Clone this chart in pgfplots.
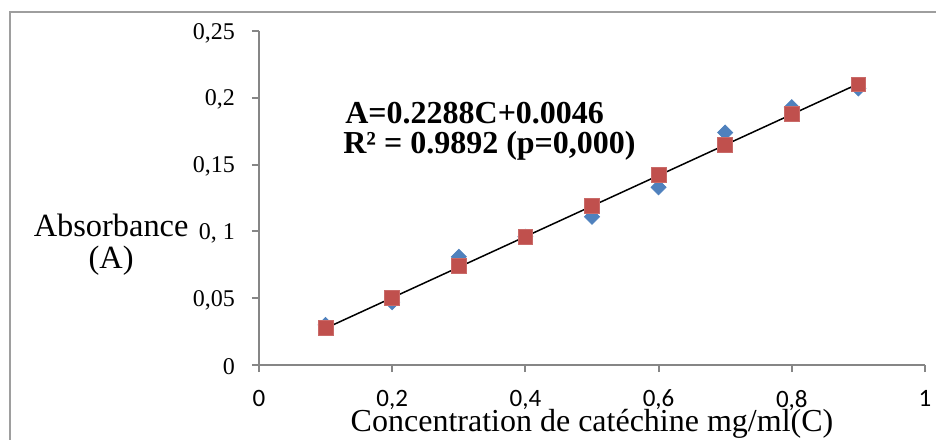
\documentclass[border=0pt]{standalone}
\usepackage{fontspec}
\setmainfont{Liberation Serif}
\newfontfamily\calibri{Carlito}
\usepackage{pgfplots}
\pgfplotsset{compat=1.18}

\definecolor{xlblue}{HTML}{4F81BD}
\definecolor{xlred}{HTML}{C0504D}
\definecolor{axgray}{HTML}{868686}

\begin{document}
\begin{tikzpicture}
% page = 936 x 439 px at 0.5pt per px, origin at the axis corner
\useasboundingbox (-129.5pt,-37pt) rectangle (338.5pt,182.5pt);
\draw[color=axgray!80, line width=0.9pt] (-124.5pt,-40pt) -- (-124.5pt,176.5pt) -- (340pt,176.5pt);
\begin{axis}[
    at={(0,0)}, anchor=south west,
    scale only axis,
    width=333pt, height=167pt,
    xmin=0, xmax=1, ymin=0, ymax=0.25,
    axis lines=left,
    axis line style={color=axgray, line width=1pt, -},
    tick align=outside,
    major tick length=3.5pt,
    tick style={color=axgray, line width=1pt},
    xtick={0,0.2,...,1},
    xticklabels={0,{0,2},{0,4},{0,6},{0,8},1},
    ytick={0,0.05,0.1,0.15,0.2,0.25},
    yticklabels={0,{0,05},{0, 1},{0,15},{0,2},{0,25}},
    xticklabel style={font=\calibri\fontsize{12.5}{14}\selectfont, anchor=north, yshift=-5.5pt},
    yticklabel style={font=\fontsize{12}{13}\selectfont, anchor=east, xshift=-5pt, yshift=-1pt},
    xlabel={Concentration de catéchine mg/ml(C)},
    ylabel={Absorbance\\(A)},
    xlabel style={font=\fontsize{16}{17}\selectfont, at={(axis description cs:0.5,-0.2)}, anchor=base},
    ylabel style={font=\fontsize{16.2}{16}\selectfont, rotate=-90, align=center, at={(axis description cs:-0.222,0.359)}, anchor=center},
    clip=false,
]
\addplot[only marks, mark=square*, mark size=2.65pt, mark options={rotate=45, draw=xlblue, fill=xlblue}] coordinates {
    (0.1,0.030) (0.2,0.047) (0.3,0.081) (0.4,0.096) (0.5,0.111)
    (0.6,0.133) (0.7,0.174) (0.8,0.193) (0.9,0.207)
};
\addplot[only marks, mark=square*, mark size=3.7pt, mark options={draw=xlred!85!white, fill=xlred}] coordinates {
    (0.1,0.028) (0.2,0.050) (0.3,0.074) (0.4,0.096) (0.5,0.119)
    (0.6,0.142) (0.7,0.165) (0.8,0.188) (0.9,0.210)
};
\addplot[black, line width=0.75pt] coordinates {(0.1,0.02748) (0.9,0.21052)};
\node[anchor=base west, inner sep=0pt, font=\bfseries\fontsize{16}{18}\selectfont] at (axis cs:0.129,0.181) {A=0.2288C+0.0046};
\node[anchor=base west, inner sep=0pt, font=\bfseries\fontsize{16}{18}\selectfont] at (axis cs:0.126,0.1585) {R² = 0.9892 (p=0,000)};
\end{axis}
\end{tikzpicture}
\end{document}
